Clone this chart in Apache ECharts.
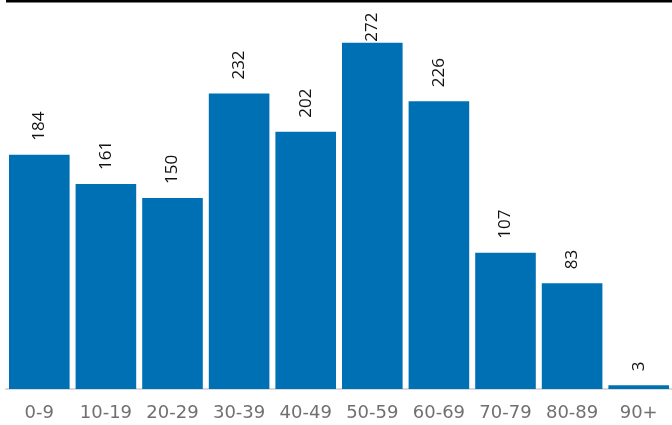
<!DOCTYPE html>
<html><head><meta charset="utf-8">
<script src="https://cdn.jsdelivr.net/npm/echarts@6/dist/echarts.min.js"></script>
<style>html,body{margin:0;padding:0;background:#fff}#c{width:672px;height:425px}</style>
</head><body><div id="c"></div>
<script>
const categories = ['0-9','10-19','20-29','30-39','40-49','50-59','60-69','70-79','80-89','90+'];
const values = [184,161,150,232,202,272,226,107,83,3];

const chart = echarts.init(document.getElementById('c'));
const yMax = 300;
chart.setOption({
  animation:false,
  grid:{left:6,right:-4,top:7,bottom:36,containLabel:false},
  graphic:[{type:'line',shape:{x1:6,y1:1,x2:672,y2:1},style:{stroke:'#000',lineWidth:3},silent:true}],
  xAxis:{type:'category',data:categories,
    axisLine:{show:true,lineStyle:{color:'#d9d9d9',width:2}},
    axisTick:{show:false},
    axisLabel:{color:'#707070',fontSize:18,fontFamily:'DejaVu Sans',margin:15,interval:0}},
  yAxis:{type:'value',min:0,max:yMax,show:false,splitLine:{show:false}},
  series:[{type:'bar',barCategoryGap:'9%',
    data:values.map(v=>({value:v, label: v>260?{distance:1}:undefined})),
    itemStyle:{color:'#0070b4'},
    label:{show:true,position:'top',rotate:90,align:'left',verticalAlign:'middle',distance:14,
      color:'#111',fontSize:17,fontFamily:'Open Sans'}}]
});
</script></body></html>
